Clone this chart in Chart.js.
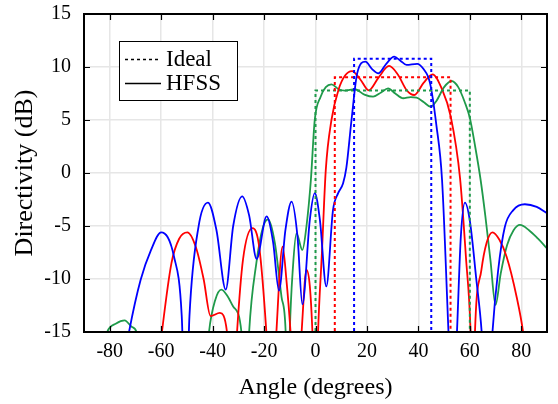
<!DOCTYPE html>
<html>
<head>
<meta charset="utf-8">
<script src="https://cdn.jsdelivr.net/npm/chart.js"></script>
<style>
  html, body { margin: 0; padding: 0; background: #fff; }
  #wrap { width: 558px; height: 404px; }
</style>
</head>
<body>
<div id="wrap"><canvas id="myChart"></canvas></div>
<script>
// tick values for both axes
var xTickValues = [-80, -60, -40, -20, 0, 20, 40, 60, 80];
var yTickValues = [-15, -10, -5, 0, 5, 10, 15];
var legendLabels = ['Ideal', 'HFSS'];

// ideal (flat-top) patterns
var blueIdealAngle = [15, 15, 45, 45];
var blueIdealDb = [-20, 10.79, 10.79, -20];
var redIdealAngle = [7.5, 7.5, 52.5, 52.5];
var redIdealDb = [-20, 9.03, 9.03, -20];
var greenIdealAngle = [0, 0, 60, 60];
var greenIdealDb = [-20, 7.78, 7.78, -20];

// HFSS simulated patterns
var blueAngle = [-76, -72.5, -68, -64, -60, -55, -52, -50.5, -49, -45.5, -41.8, -38.5, -34.9, -32, -28.5, -25.8, -22.9, -19, -16.5, -14.2, -11.7, -9.3, -7, -5.1, -2.2, -0.3, 1.7, 4.2, 6.8, 8.8, 10.7, 12, 14, 16.2, 19.4, 22, 24.4, 27.5, 30.6, 33, 35.4, 39.5, 42, 44.5, 47, 49.2, 51.7, 53.3, 55, 56.5, 58.1, 60, 62.5, 64.6, 66.7, 68.8, 71, 73.6, 76.9, 81.4, 86, 90];
var blueDb = [-20, -15, -10.1, -7.3, -5.6, -7.9, -13.5, -24, -13.5, -5.1, -2.8, -5.4, -11, -5, -2.2, -4, -8.1, -4.1, -6.5, -11.1, -5.4, -2.7, -6, -12.4, -4.4, -1.9, -4.4, -10.7, -3.5, -1.9, -1.0, 0.5, 5.0, 9.4, 10.5, 9.8, 9.4, 10.3, 10.97, 10.6, 10.2, 10.3, 9.8, 8.5, 4.5, -0.66, -15, -24, -15, -6, -2.8, -4.5, -10, -15, -24, -15, -9.2, -5.1, -3.5, -2.95, -3.2, -3.8];

var redAngle = [-62, -59.7, -56, -53, -49.8, -46.5, -43.5, -40.8, -37.2, -34.4, -32.5, -30.5, -28.2, -24.5, -21.9, -19.1, -17, -15.2, -12.8, -11.3, -9.7, -7.5, -5.4, -3.5, -2.2, -1.2, 0, 1, 2.5, 4, 6.2, 9, 11.5, 14.2, 17.5, 20.7, 24.5, 28.6, 32, 35.5, 38.4, 42, 45.5, 49, 52.6, 56.2, 58.5, 60.3, 61.2, 62, 64.5, 66.5, 68.8, 71.5, 74.3, 78.2, 80.7, 83];
var redDb = [-20, -15, -8.5, -6.2, -5.6, -7, -10, -13.5, -13.2, -15, -24, -15, -8.2, -5.2, -6.95, -15, -24, -15, -6.95, -10.1, -15, -24, -15, -9.15, -10.7, -15, -24, -15, -7.5, 0.3, 5.0, 7.9, 9.2, 9.62, 8.8, 7.8, 9.0, 10.1, 9.3, 7.8, 7.36, 8.5, 9.3, 8.0, 5.3, -0.5, -8, -15, -24, -15, -9.15, -6.6, -5.6, -6.3, -7.9, -11.7, -15, -20];

var greenAngle = [-84, -81, -77.5, -74.2, -71.5, -69.6, -67, -56, -43, -41.4, -39, -36.6, -34, -32, -28.8, -27.3, -25.8, -23, -20.4, -18.4, -15.8, -13.2, -11.6, -10.8, -10, -8.8, -7.4, -5.1, -3.5, -1.8, -0.3, 2, 4, 6.2, 9, 11.4, 15.3, 19, 22.4, 25.5, 28.2, 31, 34.1, 37, 39.3, 42, 44.8, 47, 50, 52.9, 55.5, 58, 60, 62, 64.2, 66, 68, 70, 72, 74.5, 77, 79.5, 83, 86.5, 90];
var greenDb = [-18, -15, -14.2, -13.9, -14.5, -15, -20, -35, -20, -15, -12, -11, -11.7, -12.6, -15, -24, -15, -8.5, -5.1, -4.37, -6.6, -11.7, -15, -24, -15, -9, -5.7, -7.26, -5, -0.66, 5.0, 7.2, 8.1, 8.37, 7.9, 7.77, 7.9, 7.4, 7.2, 7.6, 7.99, 7.5, 7.05, 7.15, 7.1, 6.7, 6.25, 6.8, 8.1, 8.68, 8.1, 6.7, 5.2, 2.6, -0.66, -4, -8.2, -12.45, -9.5, -6.8, -5.4, -4.9, -5.4, -6.2, -7.1];

var BLUE = '#0000ff';
var RED = '#ff0000';
var GREEN = '#1f9a4a';

function toPoints(xs, ys) {
    return xs.map(function (x, i) {
        return { x: x, y: ys[i] };
    });
}

function idealSet(xs, ys, color) {
    return {
        data: toPoints(xs, ys),
        borderColor: color,
        borderWidth: 2,
        borderDash: [3, 3],
        pointRadius: 0,
        tension: 0,
        fill: false
    };
}

function hfssSet(xs, ys, color) {
    return {
        data: toPoints(xs, ys),
        borderColor: color,
        borderWidth: 1.8,
        pointRadius: 0,
        cubicInterpolationMode: 'monotone',
        fill: false
    };
}

// frame, inward ticks and the black legend box
var framePlugin = {
    id: 'frame',
    afterDraw: function (chart) {
        var ctx = chart.ctx;
        var a = chart.chartArea;
        var xs = chart.scales.x;
        var ys = chart.scales.y;
        var tl = 6;
        ctx.save();
        ctx.strokeStyle = '#000';
        ctx.lineWidth = 1.2;
        ctx.setLineDash([]);
        ctx.beginPath();
        xTickValues.forEach(function (v) {
            var px = Math.round(xs.getPixelForValue(v)) + 0.5;
            ctx.moveTo(px, a.bottom); ctx.lineTo(px, a.bottom - tl);
            ctx.moveTo(px, a.top); ctx.lineTo(px, a.top + tl);
        });
        yTickValues.forEach(function (v) {
            var py = Math.round(ys.getPixelForValue(v)) + 0.5;
            ctx.moveTo(a.left, py); ctx.lineTo(a.left + tl, py);
            ctx.moveTo(a.right, py); ctx.lineTo(a.right - tl, py);
        });
        ctx.stroke();
        ctx.lineWidth = 2;
        ctx.strokeRect(a.left, a.top, a.right - a.left, a.bottom - a.top);

        // legend
        var bx = 119.5, by = 41.5, bw = 118, bh = 59;
        ctx.fillStyle = '#fff';
        ctx.fillRect(bx, by, bw, bh);
        ctx.lineWidth = 1;
        ctx.strokeRect(bx, by, bw, bh);
        ctx.lineWidth = 1.5;
        ctx.setLineDash([3, 3]);
        ctx.beginPath();
        ctx.moveTo(125, 59.5); ctx.lineTo(161, 59.5);
        ctx.stroke();
        ctx.setLineDash([]);
        ctx.beginPath();
        ctx.moveTo(125, 83.5); ctx.lineTo(161, 83.5);
        ctx.stroke();
        ctx.fillStyle = '#000';
        ctx.font = '23px "Liberation Serif"';
        ctx.textBaseline = 'middle';
        ctx.textAlign = 'left';
        ctx.fillText(legendLabels[0], 166, 60);
        ctx.fillText(legendLabels[1], 166, 84);
        ctx.restore();
    }
};

Chart.defaults.font.family = '"Liberation Serif", "Times New Roman", serif';
Chart.defaults.color = '#000';

var ctx = document.getElementById('myChart');
var chart = new Chart(ctx, {
    type: 'line',
    data: {
        datasets: [
            idealSet(blueIdealAngle, blueIdealDb, BLUE),
            idealSet(redIdealAngle, redIdealDb, RED),
            idealSet(greenIdealAngle, greenIdealDb, GREEN),
            hfssSet(blueAngle, blueDb, BLUE),
            hfssSet(redAngle, redDb, RED),
            hfssSet(greenAngle, greenDb, GREEN)
        ]
    },
    options: {
        responsive: true,
        maintainAspectRatio: false,
        animation: false,
        events: [],
        layout: { padding: { top: 14, right: 11, left: 0, bottom: 0 } },
        plugins: {
            legend: { display: false },
            tooltip: { enabled: false }
        },
        scales: {
            x: {
                type: 'linear',
                min: -90,
                max: 90,
                afterBuildTicks: function (scale) {
                    scale.ticks = xTickValues.map(function (v) { return { value: v }; });
                },
                afterFit: function (scale) {
                    scale.height = 72;
                    scale.paddingLeft = 0;
                    scale.paddingRight = 0;
                },
                grid: { color: '#e6e6e6', lineWidth: 1.5, drawTicks: false },
                border: { display: false },
                ticks: { font: { size: 20 }, padding: 8, maxRotation: 0 },
                title: {
                    display: true,
                    text: 'Angle (degrees)',
                    font: { size: 24 },
                    padding: { top: 4, bottom: 2 }
                }
            },
            y: {
                type: 'linear',
                min: -15,
                max: 15,
                afterBuildTicks: function (scale) {
                    scale.ticks = yTickValues.map(function (v) { return { value: v }; });
                },
                afterFit: function (scale) {
                    scale.width = 84;
                    scale.paddingTop = 0;
                    scale.paddingBottom = 0;
                },
                grid: { color: '#e6e6e6', lineWidth: 1.5, drawTicks: false },
                border: { display: false },
                ticks: { font: { size: 20 }, padding: 13 },
                title: {
                    display: true,
                    text: 'Directivity (dB)',
                    font: { size: 26 },
                    padding: { top: 10, bottom: 0 }
                }
            }
        }
    },
    plugins: [framePlugin]
});
</script>
</body>
</html>
